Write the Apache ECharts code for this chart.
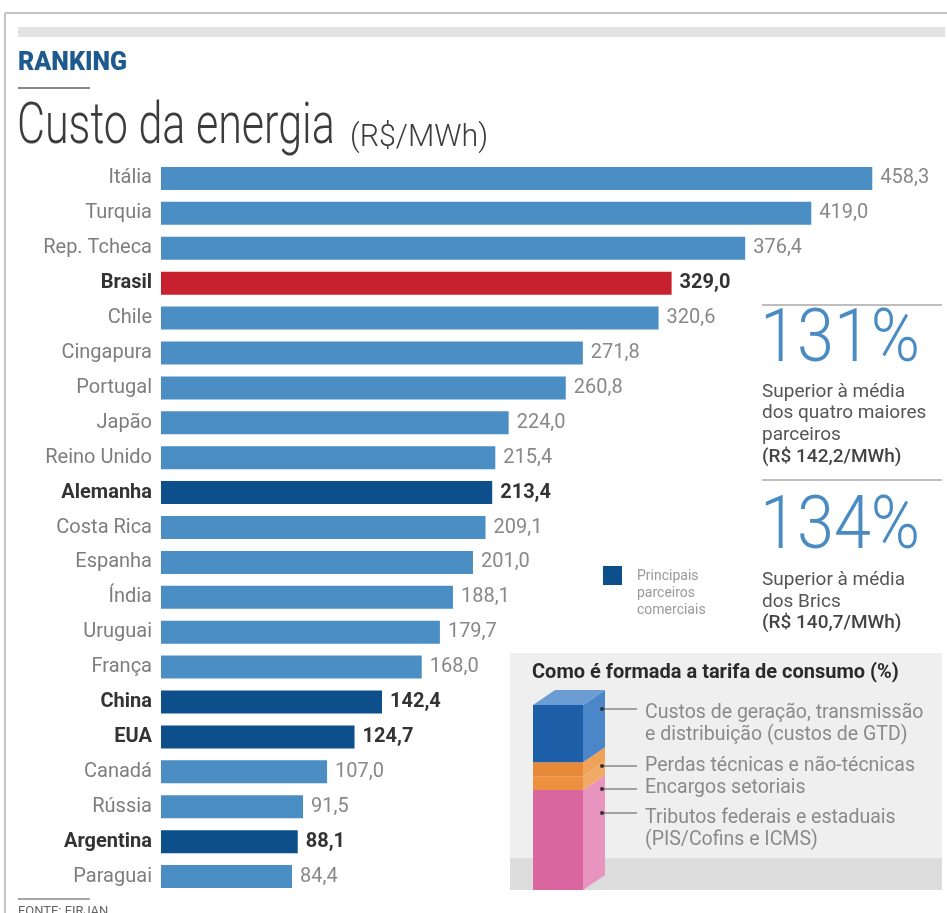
<!DOCTYPE html>
<html>
<head>
<meta charset="utf-8">
<script src="https://cdn.jsdelivr.net/npm/echarts@6/dist/echarts.min.js"></script>
<style>
html,body{margin:0;padding:0;background:#fff;}
#chart{width:947px;height:913px;}
</style>
</head>
<body>
<div id="chart"></div>
<script>
// ---- Data ----
const paises = ['Itália','Turquia','Rep. Tcheca','Brasil','Chile','Cingapura','Portugal','Japão','Reino Unido','Alemanha','Costa Rica','Espanha','Índia','Uruguai','França','China','EUA','Canadá','Rússia','Argentina','Paraguai'];
const custos = [458.3,419.0,376.4,329.0,320.6,271.8,260.8,224.0,215.4,213.4,209.1,201.0,188.1,179.7,168.0,142.4,124.7,107.0,91.5,88.1,84.4];
const destaque = ['Brasil'];
const parceiros = ['Alemanha','China','EUA','Argentina'];

// Tarifa composition (bottom to top), %
const tarifaRotulos = ['Tributos federais e estaduais', 'Encargos setoriais', 'Perdas técnicas e não-técnicas', 'Custos de GTD'];
const tarifaValores = [54, 7.5, 7.5, 31];

const FONT = 'Roboto';
const C_LIGHT = '#4a8ec4';
const C_DARK = '#0c4f8b';
const C_RED = '#c7202f';

function barColor(p){
  if (destaque.includes(p)) return C_RED;
  if (parceiros.includes(p)) return C_DARK;
  return C_LIGHT;
}
function isBold(p){ return destaque.includes(p) || parceiros.includes(p); }

// stacked tarifa segments
const tarifaFront = ['#d9669f', '#ec9140', '#e8893a', '#1c5ea8'];
const tarifaSide  = ['#e795bf', '#f2ab66', '#f0a258', '#4a86c8'];
const tarifaTop = '#6b9cd4';
let acc = 0;
const tarifaTotal = tarifaValores.reduce((a,b)=>a+b,0);
const tarifaData = tarifaValores.map((v,i)=>{ const s = acc; acc += v; return [0, s, acc, i]; });

const chart = echarts.init(document.getElementById('chart'), null, {renderer:'canvas'});

const txt = (x, y, text, style, extra) => Object.assign({
  type:'text', x:x, y:y, z:100,
  style: Object.assign({text:text, fontFamily:FONT, fill:'#555', verticalAlign:'middle', align:'left'}, style)
}, extra || {});

const graphics = [
  // frame
  {type:'line', shape:{x1:5, y1:13, x2:947, y2:13}, style:{stroke:'#c4c4c4', lineWidth:2}},
  {type:'line', shape:{x1:5, y1:13, x2:5, y2:913}, style:{stroke:'#c4c4c4', lineWidth:2}},
  {type:'rect', shape:{x:18, y:27, width:927, height:10}, style:{fill:'#e3e3e3'}},
  txt(18, 64, 'RANKING', {fontSize:25, fontWeight:900, fill:'#1f5a8e'}),
  {type:'line', shape:{x1:18, y1:88, x2:90, y2:88}, style:{stroke:'#8a8a8a', lineWidth:2}},
  txt(17, 129, 'Custo da energia', {fontSize:57, fontWeight:300, fill:'#3c3c3c'}, {scaleX:0.755}),
  txt(350, 138, '(R$/MWh)', {fontSize:31, fontWeight:300, fill:'#3c3c3c'}, {scaleX:0.98}),
  // right annotations
  {type:'line', shape:{x1:762, y1:305, x2:942, y2:305}, style:{stroke:'#a8a8a8', lineWidth:1.5}},
  txt(760, 342, '131%', {fontSize:74, fontWeight:300, fill:'#4a8bc2'}, {scaleX:0.9}),
  txt(762, 392, 'Superior à média', {fontSize:19, fill:'#555'}),
  txt(762, 413, 'dos quatro maiores', {fontSize:19, fill:'#555'}),
  txt(762, 435, 'parceiros', {fontSize:19, fill:'#555'}),
  txt(762, 457, '(R$ 142,2/MWh)', {fontSize:19, fontWeight:500, fill:'#444'}),
  {type:'line', shape:{x1:762, y1:480, x2:942, y2:480}, style:{stroke:'#a8a8a8', lineWidth:1.5}},
  txt(760, 529, '134%', {fontSize:74, fontWeight:300, fill:'#4a8bc2'}, {scaleX:0.9}),
  txt(762, 580, 'Superior à média', {fontSize:19, fill:'#555'}),
  txt(762, 602, 'dos Brics', {fontSize:19, fill:'#555'}),
  txt(762, 623, '(R$ 140,7/MWh)', {fontSize:19, fontWeight:500, fill:'#444'}),
  // legend
  {type:'rect', shape:{x:603, y:566, width:19, height:19}, style:{fill:C_DARK}},
  txt(637, 576, 'Principais', {fontSize:14, fill:'#9a9a9a'}),
  txt(637, 593, 'parceiros', {fontSize:14, fill:'#9a9a9a'}),
  txt(637, 610, 'comerciais', {fontSize:14, fill:'#9a9a9a'}),
  // inset box
  {type:'rect', z:-10, shape:{x:510, y:653, width:432, height:237}, style:{fill:'#efefef'}},
  {type:'rect', z:-9, shape:{x:510, y:858, width:432, height:32}, style:{fill:'#dcdcdc'}},
  txt(532, 673, 'Como é formada a tarifa de consumo (%)', {fontSize:20, fontWeight:'bold', fill:'#2a2a2a'}),
  // inset labels & leaders
  txt(645, 713, 'Custos de geração, transmissão', {fontSize:19.5, fill:'#8a8a8a'}),
  txt(645, 735, 'e distribuição (custos de GTD)', {fontSize:19.5, fill:'#8a8a8a'}),
  txt(645, 766, 'Perdas técnicas e não-técnicas', {fontSize:19.5, fill:'#8a8a8a'}),
  txt(645, 788, 'Encargos setoriais', {fontSize:19.5, fill:'#8a8a8a'}),
  txt(645, 818, 'Tributos federais e estaduais', {fontSize:19.5, fill:'#8a8a8a'}),
  txt(645, 840, '(PIS/Cofins e ICMS)', {fontSize:19.5, fill:'#8a8a8a'}),
  {type:'line', z:101, shape:{x1:601, y1:709, x2:637, y2:709}, style:{stroke:'#555', lineWidth:1}},
  {type:'line', z:101, shape:{x1:601, y1:766, x2:637, y2:766}, style:{stroke:'#555', lineWidth:1}},
  {type:'line', z:101, shape:{x1:601, y1:789, x2:637, y2:789}, style:{stroke:'#555', lineWidth:1}},
  {type:'line', z:101, shape:{x1:601, y1:813, x2:637, y2:813}, style:{stroke:'#555', lineWidth:1}},
  {type:'circle', z:101, shape:{cx:602, cy:709, r:2}, style:{fill:'#333'}},
  {type:'circle', z:101, shape:{cx:602, cy:766, r:2}, style:{fill:'#333'}},
  {type:'circle', z:101, shape:{cx:602, cy:789, r:2}, style:{fill:'#333'}},
  {type:'circle', z:101, shape:{cx:602, cy:813, r:2}, style:{fill:'#333'}},
  // footer
  {type:'line', shape:{x1:18, y1:899, x2:90, y2:899}, style:{stroke:'#8a8a8a', lineWidth:1.5}},
  txt(18, 905, 'FONTE: FIRJAN', {fontSize:13, fill:'#666', verticalAlign:'top'})
];

const option = {
  backgroundColor:'#ffffff',
  animation:false,
  grid:[
    {left:161, right:10, top:161, bottom:19, containLabel:false},
    {left:533, top:705, width:50, height:185}
  ],
  xAxis:[
    {gridIndex:0, type:'value', min:0, max:500, show:false},
    {gridIndex:1, type:'category', data:['tarifa'], show:false}
  ],
  yAxis:[
    {gridIndex:0, type:'category', inverse:true,
     data: paises.map(p => ({value:p, textStyle: isBold(p) ? {fontWeight:'bold', color:'#333'} : {}})),
     axisLine:{show:false}, axisTick:{show:false}, splitLine:{show:false},
     axisLabel:{fontFamily:FONT, fontSize:20, color:'#7d7d7d', margin:9}
    },
    {gridIndex:1, type:'value', min:0, max:tarifaTotal, show:false}
  ],
  series:[
    {
      type:'bar', xAxisIndex:0, yAxisIndex:0, barWidth:23,
      data: custos.map((v,i)=>({
        value:v,
        itemStyle:{color:barColor(paises[i])},
        label: isBold(paises[i]) ? {fontWeight:'bold', color:'#333'} : {}
      })),
      label:{show:true, position:'right', distance:8, fontFamily:FONT, fontSize:20, color:'#888',
        formatter: p => p.value.toFixed(1).replace('.', ',')}
    },
    {
      type:'custom', xAxisIndex:1, yAxisIndex:1, clip:false, z:5,
      data: tarifaData,
      renderItem: function(params, api){
        const s = api.value(1), e = api.value(2), idx = api.value(3);
        const pB = api.coord([0, s]);
        const pT = api.coord([0, e]);
        const bw = 50;
        const x0 = pB[0] - bw/2, x1 = pB[0] + bw/2;
        const dx = 22, dy = -15;
        const ch = [
          {type:'rect', shape:{x:x0, y:pT[1], width:bw, height:pB[1]-pT[1]}, style:{fill:tarifaFront[idx]}},
          {type:'polygon', shape:{points:[[x1,pT[1]],[x1+dx,pT[1]+dy],[x1+dx,pB[1]+dy],[x1,pB[1]]]}, style:{fill:tarifaSide[idx]}}
        ];
        if (e >= tarifaTotal - 1e-6) {
          ch.push({type:'polygon', shape:{points:[[x0,pT[1]],[x0+dx,pT[1]+dy],[x1+dx,pT[1]+dy],[x1,pT[1]]]}, style:{fill:tarifaTop}});
        }
        return {type:'group', children:ch};
      }
    }
  ],
  graphic: graphics
};
chart.setOption(option);
</script>
</body>
</html>
